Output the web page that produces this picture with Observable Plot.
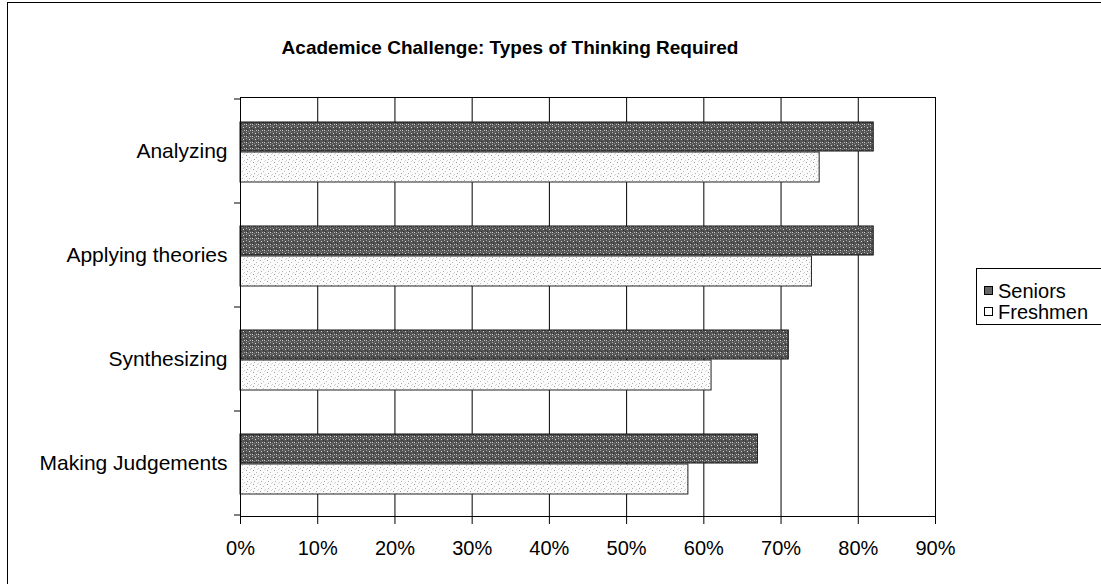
<!DOCTYPE html>
<html><head><meta charset="utf-8">
<script src="https://cdn.jsdelivr.net/npm/d3@7"></script>
<script src="https://cdn.jsdelivr.net/npm/@observablehq/plot@0.6"></script>
<style>
body{margin:0;background:#fff;font-family:"Liberation Sans",Arial,sans-serif;}
#wrap{position:relative;width:1101px;height:584px;overflow:hidden;background:#fff;}
#frame{position:absolute;left:7px;top:2px;width:1200px;height:700px;border-left:1px solid #000;border-top:1px solid #000;}
#title{position:absolute;left:0;width:1020px;top:37px;text-align:center;font-weight:bold;font-size:19px;line-height:22px;color:#000;}
#chart{position:absolute;left:0;top:0;}
#legend{position:absolute;left:976px;top:268px;width:200px;height:55px;border:1px solid #000;background:#fff;font-size:20px;color:#000;}
.item{position:absolute;left:7px;height:22px;line-height:22px;white-space:nowrap;}
.sw{display:inline-block;width:7px;height:7px;border:1px solid #000;margin-right:5px;vertical-align:3px;}
</style>
</head><body>
<div id="wrap">
  <div id="frame"></div>
  <div id="chart"></div>
  <div id="title"></div>
  <div id="legend"></div>
</div>
<script>
const titleText = "Academice Challenge: Types of Thinking Required";
const categories = ["Analyzing", "Applying theories", "Synthesizing", "Making Judgements"];
const seriesNames = ["Seniors", "Freshmen"];
const seniors = [0.82, 0.82, 0.71, 0.67];
const freshmen = [0.75, 0.74, 0.61, 0.58];
const xTicks = [0, 0.1, 0.2, 0.3, 0.4, 0.5, 0.6, 0.7, 0.8, 0.9];

const seniorsData = categories.map((c, i) => ({category: c, value: seniors[i]}));
const freshmenData = categories.map((c, i) => ({category: c, value: freshmen[i]}));
const pct = d3.format(".0%");

function categoryBoundaryTicks(index, scales, values, dims) {
  const y = scales.y;
  const step = y(categories[1]) - y(categories[0]);
  const ys = categories.map(c => y(c)).concat([y(categories[categories.length - 1]) + step]);
  const g = d3.create("svg:g");
  for (const yy of ys) {
    g.append("line").attr("x1", dims.marginLeft - 6).attr("x2", dims.marginLeft)
      .attr("y1", yy).attr("y2", yy).attr("stroke", "#000");
  }
  return g.node();
}

const svg = Plot.plot({
  width: 1101,
  height: 584,
  marginLeft: 240,
  marginRight: 166,
  marginTop: 97,
  marginBottom: 68,
  style: {fontFamily: "'Liberation Sans', Arial, sans-serif", fontSize: "20px", color: "#000", background: "transparent"},
  x: {domain: [0, 0.9]},
  y: {domain: categories, padding: 0},
  marks: [
    Plot.gridX(xTicks, {stroke: "#000", strokeOpacity: 1, strokeWidth: 1}),
    Plot.barX(seniorsData, {x: "value", y: "category", insetTop: 23, insetBottom: 52, fill: "url(#patSeniors)", stroke: "#111", strokeWidth: 1}),
    Plot.barX(freshmenData, {x: "value", y: "category", insetTop: 53, insetBottom: 21, fill: "url(#patFreshmen)", stroke: "#222", strokeWidth: 1}),
    Plot.frame({stroke: "#000"}),
    Plot.axisX({ticks: xTicks, tickFormat: pct, tickSize: 8, tickPadding: 16, fontSize: 20, label: null, stroke: "#000"}),
    Plot.axisY({tickSize: 0, tickPadding: 13, fontSize: 21, label: null}),
    categoryBoundaryTicks
  ]
});

// texture patterns
const defs = d3.select(svg).insert("defs", ":first-child");
const p1 = defs.append("pattern").attr("id", "patSeniors").attr("patternUnits", "userSpaceOnUse").attr("width", 6).attr("height", 6);
p1.append("rect").attr("width", 6).attr("height", 6).attr("fill", "#555");
[[0,0,"#a8a8a8"],[3,1,"#d8d8d8"],[1,3,"#2e2e2e"],[4,4,"#b8b8b8"],[2,5,"#888"],[5,2,"#333"],[0,4,"#cfcfcf"]].forEach(([x,y,c]) =>
  p1.append("rect").attr("x", x).attr("y", y).attr("width", 1).attr("height", 1).attr("fill", c));
const p2 = defs.append("pattern").attr("id", "patFreshmen").attr("patternUnits", "userSpaceOnUse").attr("width", 7).attr("height", 7);
p2.append("rect").attr("width", 7).attr("height", 7).attr("fill", "#fbfbfb");
[[1,1,"#9a9a9a"],[4,3,"#bdbdbd"],[2,5,"#aaaaaa"],[6,6,"#cfcfcf"],[5,0,"#d5d5d5"]].forEach(([x,y,c]) =>
  p2.append("rect").attr("x", x).attr("y", y).attr("width", 1).attr("height", 1).attr("fill", c));

document.getElementById("chart").appendChild(svg);
document.getElementById("title").textContent = titleText;

const legend = document.getElementById("legend");
const swatchBg = ["#666", "#fff"];
seriesNames.forEach((name, i) => {
  const it = document.createElement("div");
  it.className = "item";
  it.style.top = (11 + i * 21) + "px";
  const sw = document.createElement("span");
  sw.className = "sw";
  sw.style.background = swatchBg[i];
  it.appendChild(sw);
  it.appendChild(document.createTextNode(name));
  legend.appendChild(it);
});
</script>
</body></html>
